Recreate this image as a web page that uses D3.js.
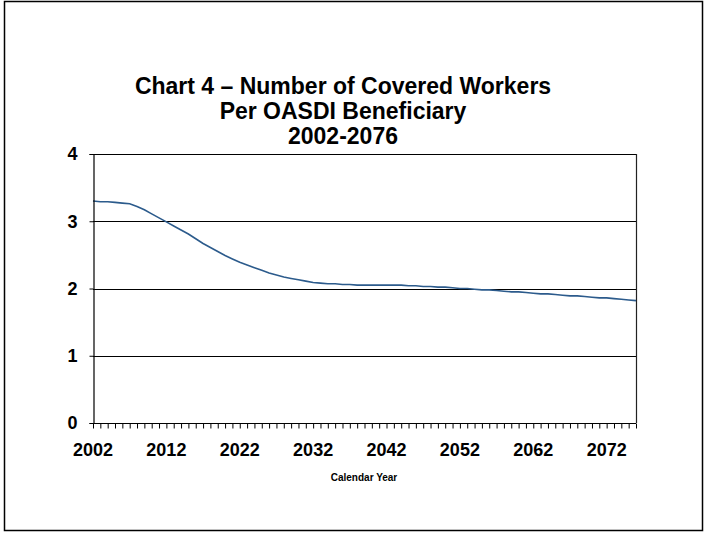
<!DOCTYPE html>
<html>
<head>
<meta charset="utf-8">
<script src="https://cdn.jsdelivr.net/npm/d3@7"></script>
<style>
  html, body { margin: 0; padding: 0; background: #fff; }
  svg { display: block; }
  text { font-family: "Liberation Sans", Arial, sans-serif; font-weight: bold; fill: #000; }
</style>
</head>
<body>
<script>
const titleLines = ["Chart 4 \u2013 Number of Covered Workers", "Per OASDI Beneficiary", "2002-2076"];
const xAxisTitle = "Calendar Year";
const years = d3.range(2002, 2077);
const ratios = [
  3.30, 3.29, 3.29, 3.28, 3.27, 3.26, 3.22, 3.17, 3.11, 3.05,
  2.99, 2.93, 2.87, 2.81, 2.74, 2.67, 2.61, 2.55, 2.49, 2.44,
  2.39, 2.35, 2.31, 2.27, 2.23, 2.20, 2.17, 2.15, 2.13, 2.11,
  2.09, 2.08, 2.07, 2.07, 2.06, 2.06, 2.05, 2.05, 2.05, 2.05,
  2.05, 2.05, 2.05, 2.04, 2.04, 2.03, 2.03, 2.02, 2.02, 2.01,
  2.00, 2.00, 1.99, 1.98, 1.98, 1.97, 1.96, 1.95, 1.95, 1.94,
  1.93, 1.92, 1.92, 1.91, 1.90, 1.89, 1.89, 1.88, 1.87, 1.86,
  1.86, 1.85, 1.84, 1.83, 1.82
];
const yTicks = [0, 1, 2, 3, 4];
const xTickLabels = [2002, 2012, 2022, 2032, 2042, 2052, 2062, 2072];

const W = 708, H = 533;
const pLeft = 93, pRight = 636, pTop = 154, pBottom = 423;

const svg = d3.select("body").append("svg").attr("width", W).attr("height", H);

// outer frame
svg.append("rect").attr("x", 4.5).attr("y", 1.5).attr("width", 698).attr("height", 529)
  .attr("fill", "none").attr("stroke", "#000").attr("stroke-width", 1.5);

const x = d3.scaleLinear().domain([2002, 2076]).range([pLeft, pRight]);
const y = d3.scaleLinear().domain([0, 4]).range([pBottom, pTop]);

// title
svg.append("g").selectAll("text").data(titleLines).join("text")
  .attr("x", 343).attr("y", (d, i) => 94 + i * 25)
  .attr("text-anchor", "middle").style("font-size", "23px").text(d => d);

// gridlines
svg.append("g").selectAll("line").data(yTicks.filter(d => d > 0)).join("line")
  .attr("x1", pLeft).attr("x2", pRight)
  .attr("y1", d => Math.round(y(d)) + 0.5).attr("y2", d => Math.round(y(d)) + 0.5)
  .attr("stroke", "#000").attr("stroke-width", 1);

// right border
svg.append("line").attr("x1", pRight + 0.5).attr("x2", pRight + 0.5)
  .attr("y1", pTop).attr("y2", pBottom).attr("stroke", "#222").attr("stroke-width", 1.2);

// line
const line = d3.line().x((d, i) => x(years[i])).y(d => y(d));
svg.append("path").datum(ratios).attr("d", line)
  .attr("fill", "none").attr("stroke", "#2c5b8c").attr("stroke-width", 1.6);

// y axis
const yAxis = d3.axisLeft(y).tickValues(yTicks).tickSize(4).tickPadding(12).tickFormat(d3.format("d"));
const gy = svg.append("g").attr("transform", `translate(${pLeft + 0.5},0)`).call(yAxis);
gy.select(".domain").attr("stroke", "#000").attr("stroke-width", 1.2);
gy.selectAll(".tick line").attr("stroke", "#000");
gy.selectAll(".tick text").style("font-size", "18px").style("font-family", "'Liberation Sans', Arial, sans-serif").style("font-weight", "bold");

// x axis: minor ticks at every year
const xAxis = d3.axisBottom(x).tickValues(years).tickSize(5).tickFormat("");
const gx = svg.append("g").attr("transform", `translate(0,${pBottom + 0.5})`).call(xAxis);
gx.select(".domain").attr("stroke", "#000").attr("stroke-width", 1.2).attr("d", `M${pLeft},0H${pRight}`);
gx.selectAll(".tick line").attr("stroke", "#000");

// x tick labels
svg.append("g").selectAll("text").data(xTickLabels).join("text")
  .attr("x", d => x(d)).attr("y", 456)
  .attr("text-anchor", "middle").style("font-size", "18px").text(d => d);

// x axis title
svg.append("text").attr("x", 364).attr("y", 481).attr("text-anchor", "middle")
  .style("font-size", "10px").text(xAxisTitle);
</script>
</body>
</html>
